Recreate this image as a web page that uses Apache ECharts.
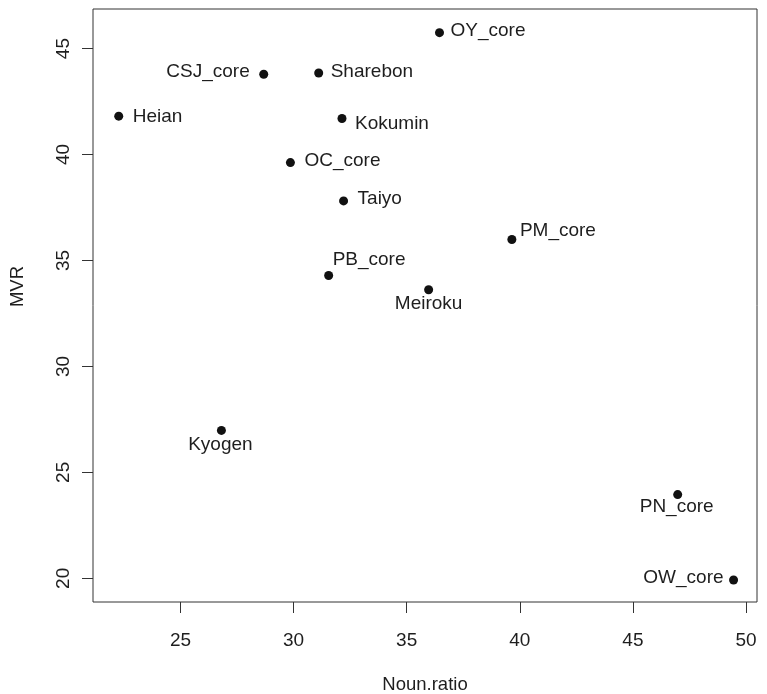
<!DOCTYPE html>
<html>
<head>
<meta charset="utf-8">
<script src="https://cdn.jsdelivr.net/npm/echarts@6/dist/echarts.min.js"></script>
<style>
html,body{margin:0;padding:0;background:#fff;}
#chart{width:767px;height:694px;}
</style>
</head>
<body>
<div id="chart"></div>
<script>
// ---- data ----
const names = ["Heian","CSJ_core","Sharebon","Kokumin","OC_core","Taiyo","OY_core","PM_core","PB_core","Meiroku","Kyogen","PN_core","OW_core"];
const nounRatio = [22.27, 28.68, 31.11, 32.14, 29.86, 32.21, 36.45, 39.65, 31.55, 35.97, 26.81, 46.98, 49.45];
const mvr = [41.81, 43.79, 43.85, 41.70, 39.62, 37.81, 45.75, 35.99, 34.29, 33.62, 26.98, 23.95, 19.92];
const xTicks = [25, 30, 35, 40, 45, 50];
const yTicks = [20, 25, 30, 35, 40, 45];
const xTitle = "Noun.ratio";
const yTitle = "MVR";

// ---- label placement (style only) ----
const labelPlace = {
  "Heian":    {align:"left",  offset:[14, 1]},
  "CSJ_core": {align:"right", offset:[-14,-2]},
  "Sharebon": {align:"left",  offset:[12,-1]},
  "Kokumin":  {align:"left",  offset:[13, 5]},
  "OC_core":  {align:"left",  offset:[14,-2]},
  "Taiyo":    {align:"left",  offset:[14,-2]},
  "OY_core":  {align:"left",  offset:[11,-2]},
  "PM_core":  {align:"left",  offset:[8,-9]},
  "PB_core":  {align:"left",  offset:[4,-16]},
  "Meiroku":  {align:"center",offset:[0,14]},
  "Kyogen":   {align:"center",offset:[-1,14]},
  "PN_core":  {align:"center",offset:[-1,12]},
  "OW_core":  {align:"right", offset:[-10,-2]}
};

const FONT = "'Liberation Sans', Arial, sans-serif";
const TXT = "#1e1e1e";
const LINE = "#333";

const chart = echarts.init(document.getElementById('chart'), null, {renderer:'canvas'});
const option = {
  animation: false,
  backgroundColor: '#fff',
  grid: {left: 93, top: 9, width: 664, height: 593, containLabel: false, outerBoundsMode: 'none',
         show: true, borderColor: LINE, borderWidth: 1, backgroundColor: 'transparent'},
  xAxis: {
    type: 'value', min: 21.133, max: 50.486,
    name: xTitle, nameLocation: 'middle', nameGap: 73,
    nameTextStyle: {fontFamily: FONT, fontSize: 18.5, color: TXT},
    axisLine: {show: false},
    splitLine: {show: false},
    axisTick: {show: true, inside: false, length: 11, lineStyle: {color: LINE, width: 1}, customValues: xTicks},
    axisLabel: {show: true, margin: 29, fontFamily: FONT, fontSize: 19, color: TXT, customValues: xTicks, formatter: v => String(v)}
  },
  yAxis: {
    type: 'value', min: 18.882, max: 46.868,
    name: yTitle, nameLocation: 'middle', nameGap: 66, nameRotate: 90,
    nameTextStyle: {fontFamily: FONT, fontSize: 18.5, color: TXT, padding: [0, 0, 0, 38]},
    axisLine: {show: false},
    splitLine: {show: false},
    axisTick: {show: true, inside: false, length: 11, lineStyle: {color: LINE, width: 1}, customValues: yTicks},
    axisLabel: {show: true, rotate: 90, margin: 20, fontFamily: FONT, fontSize: 19, color: TXT, customValues: yTicks, formatter: v => String(v)}
  },
  series: [{
    type: 'scatter',
    symbol: 'circle',
    symbolSize: 9,
    itemStyle: {color: '#111', opacity: 1},
    label: {show: true, position: 'inside', formatter: '{b}', fontFamily: FONT, fontSize: 19, color: TXT, verticalAlign: 'middle'},
    data: names.map((n, i) => ({
      name: n,
      value: [nounRatio[i], mvr[i]],
      label: {align: labelPlace[n].align, offset: labelPlace[n].offset}
    }))
  }]
};
chart.setOption(option);
</script>
</body>
</html>
